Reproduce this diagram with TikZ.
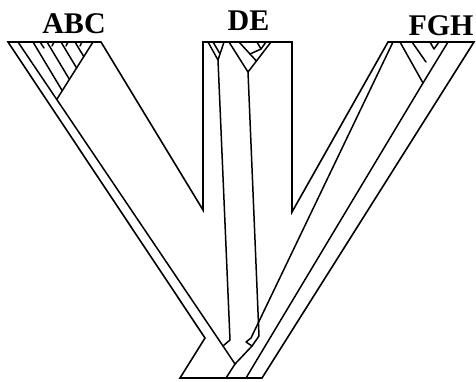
\documentclass[tikz,border=0pt]{standalone}
\usepackage{fontspec}
\setmainfont{Liberation Serif}
\begin{document}
\begin{tikzpicture}[x=1pt,y=-1pt,
  tube/.style={line width=1.6pt,line join=miter,black},
  gene/.style={line width=1.5pt,line join=round,line cap=round,black},
  lab/.style={font=\fontsize{30}{30}\selectfont\bfseries,anchor=base,inner sep=0pt}]
\useasboundingbox (0,0) rectangle (476,381);
% labels
\node[lab] (abc) at (74,33) {ABC};
\node[lab] (de) at (248.5,30) {DE};
\node[lab] (fgh) at (441,35) {FGH};
% species tree outline
\draw[tube] (8,42) -- (101,42) -- (203,210) -- (203,42) -- (292,42) -- (292,212)
  -- (388,42) -- (474,42) -- (262,378) -- (180,378) -- (205,338) -- cycle;
% ABC gene lineages
\coordinate (J1) at (223,346);
\coordinate (R) at (235,364);
\draw[gene] (18,42) -- (J1) -- (R);
\draw[gene] (93,42) -- (57,99);
\draw[gene] (33,42) -- (62.2,90.7);
\draw[gene] (47,42) -- (69.4,79.3);
\draw[gene] (61,42) -- (76.6,68);
\draw[gene] (75,42) -- (83.8,56.6);
\draw[gene] (40,42) -- (44,48);
\draw[gene] (54,42) -- (52,46);
\draw[gene] (68,42) -- (66,46);
\draw[gene] (82,42) -- (80,46);
% DE gene lineages
\draw[gene] (208,42) -- (218,60) -- (224,42);
\draw[gene] (213,42) -- (219.5,53);
\draw[gene] (218,60) -- (230,340) -- (J1);
\draw[gene] (229,42) -- (248,72) -- (271,42);
\draw[gene] (239,42) -- (256.4,61);
\draw[gene] (257,42) -- (261,49) -- (266,42);
\draw[gene] (261,49) -- (250,54);
\coordinate (J2) at (252,346);
\draw[gene] (248,72) -- (259,336) -- (J2);
% FGH gene lineages
\draw[gene] (393,42) -- (251,338) -- (246,342) -- (J2);
\draw[gene] (J2) -- (R);
\draw[gene] (R) -- (226,378);
\draw[gene] (400,42) -- (423,83) -- (448,42);
\draw[gene] (412,42) -- (426,62);
\draw[gene] (430,42) -- (434,49) -- (439,42);
\draw[gene] (423,83) -- (246,378);
\end{tikzpicture}
\end{document}
